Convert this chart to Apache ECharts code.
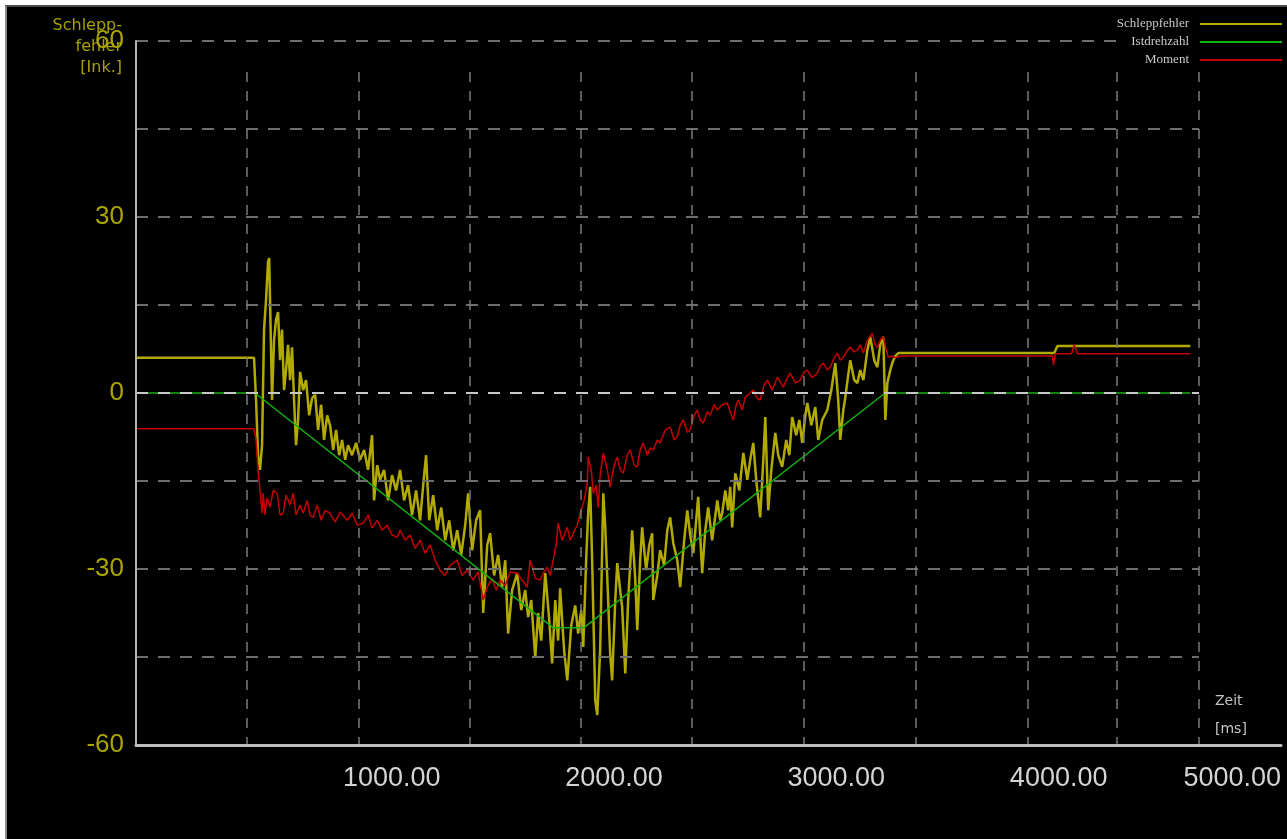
<!DOCTYPE html>
<html>
<head>
<meta charset="utf-8">
<script src="https://cdn.jsdelivr.net/npm/echarts@6/dist/echarts.min.js"></script>
<style>
  body { margin: 0; background: #fff; }
  #frame {
    position: absolute; left: 5px; top: 5px;
    width: 1280px; height: 832px;
    border-top: 2px solid #4a4a4a; border-left: 2px solid #8a8a8a;
    background: #000;
  }
  #chart { width: 1280px; height: 832px; }
</style>
</head>
<body>
<div id="frame"><div id="chart"></div></div>
<script>
// Zeit [ms] / Schleppfehler [Ink.]
const schleppTime = [-150, 381, 390, 399, 408, 417, 426, 435, 444, 449,
  453, 462, 471, 480, 489, 498, 507, 516, 525, 534,
  543, 552, 561, 570, 579, 588, 602, 615, 629, 642,
  656, 669, 683, 696, 710, 723, 737, 750, 764, 777,
  791, 804, 822, 840, 858, 876, 894, 912, 921, 935,
  948, 966, 984, 1002, 1020, 1038, 1056, 1074, 1092, 1110,
  1128, 1146, 1155, 1169, 1187, 1205, 1223, 1241, 1259, 1277,
  1295, 1313, 1331, 1344, 1362, 1380, 1398, 1412, 1430, 1443,
  1461, 1479, 1497, 1511, 1524, 1542, 1565, 1583, 1601, 1614,
  1628, 1646, 1659, 1673, 1691, 1709, 1722, 1736, 1749, 1758,
  1776, 1790, 1808, 1826, 1839, 1853, 1862, 1875, 1884, 1893,
  1902, 1916, 1925, 1938, 1952, 1961, 1974, 1983, 1992, 2006,
  2015, 2028, 2037, 2051, 2064, 2082, 2096, 2105, 2118, 2127,
  2145, 2159, 2172, 2177, 2195, 2208, 2226, 2240, 2253, 2267,
  2285, 2298, 2316, 2330, 2343, 2357, 2370, 2379, 2397, 2411,
  2424, 2442, 2465, 2478, 2487, 2501, 2514, 2523, 2532, 2546,
  2564, 2582, 2600, 2613, 2627, 2640, 2658, 2672, 2681, 2694,
  2708, 2726, 2739, 2757, 2775, 2789, 2802, 2820, 2834, 2847,
  2861, 2870, 2888, 2906, 2919, 2937, 2960, 2978, 2996, 3009,
  3018, 3032, 3041, 3054, 3063, 3081, 3095, 3108, 3122, 3140,
  3153, 3171, 3185, 3198, 3212, 3221, 3230, 3243, 3252, 3266,
  3279, 3981, 3995, 4593];
const schleppValue = [6.0, 6.0, -1.2, -10.6, -13.1, -8.9, 10.8, 15.9, 22.4, 23.0,
  15.9, -1.2, 9.0, 12.5, 13.8, 5.6, 10.8, 0.5, 3.9, 8.2,
  2.2, 7.8, -1.2, -8.9, -4.6, 3.6, 0.5, 2.2, -3.8, -0.9,
  -0.3, -6.3, -2.0, -8.0, -3.8, -5.5, -9.7, -6.3, -10.6, -8.0,
  -11.4, -8.9, -10.6, -8.5, -11.4, -9.7, -13.1, -7.2, -18.3, -12.3,
  -14.8, -13.1, -18.3, -14.0, -16.6, -13.1, -18.3, -15.7, -20.8, -16.6,
  -21.7, -14.0, -10.6, -21.7, -17.4, -23.4, -19.5, -25.1, -21.7, -26.8,
  -23.4, -27.6, -22.5, -17.1, -26.8, -21.7, -20.0, -37.5, -25.9, -23.9,
  -31.1, -27.6, -33.1, -28.5, -41.0, -33.6, -30.7, -37.0, -33.6, -38.2,
  -35.3, -45.1, -37.5, -42.2, -30.7, -38.7, -46.1, -35.3, -42.2, -33.3,
  -43.9, -49.0, -39.6, -36.2, -41.0, -37.0, -43.3, -28.5, -20.5, -16.0,
  -28.5, -52.4, -54.9, -43.9, -17.1, -22.9, -35.3, -44.4, -49.0, -35.3,
  -29.0, -33.6, -36.5, -47.8, -35.3, -23.4, -31.9, -40.4, -28.5, -22.9,
  -30.2, -25.9, -23.9, -35.3, -31.1, -26.8, -29.4, -23.4, -21.2, -25.6,
  -28.5, -33.1, -25.1, -20.0, -24.2, -27.3, -21.7, -17.7, -30.7, -23.4,
  -19.5, -25.1, -18.3, -21.7, -20.5, -16.6, -20.0, -16.0, -22.9, -13.7,
  -16.6, -10.2, -14.8, -11.4, -8.5, -14.8, -21.2, -11.4, -4.1, -20.0,
  -13.1, -6.8, -10.6, -12.6, -8.0, -10.6, -4.1, -7.2, -4.6, -8.5,
  -3.8, -1.7, -5.5, -2.4, -8.0, -4.6, -2.9, 0.5, 5.1, -1.2,
  -8.0, -2.9, -0.7, 3.1, 5.6, 2.2, 1.7, 3.9, 2.2, 7.3,
  9.6, 5.6, 4.4, 8.2, 9.6, -4.6, 1.7, 3.9, 5.1, 6.3,
  6.8, 6.8, 8.0, 8.0];

// Moment
const momentTime = [-150, 381, 390, 399, 408, 417, 422, 431, 440, 453,
  467, 485, 498, 512, 525, 543, 557, 570, 588, 602,
  620, 633, 647, 665, 683, 701, 723, 746, 768, 800,
  822, 845, 872, 894, 912, 935, 957, 980, 1002, 1025,
  1038, 1061, 1083, 1106, 1128, 1151, 1173, 1196, 1218, 1241,
  1263, 1295, 1317, 1340, 1367, 1389, 1412, 1430, 1452, 1470,
  1488, 1511, 1533, 1565, 1587, 1610, 1623, 1646, 1668, 1686,
  1700, 1713, 1727, 1740, 1749, 1767, 1790, 1803, 1817, 1835,
  1848, 1866, 1880, 1884, 1898, 1907, 1920, 1929, 1938, 1952,
  1970, 1983, 2001, 2015, 2028, 2042, 2060, 2073, 2091, 2105,
  2118, 2132, 2150, 2163, 2177, 2195, 2208, 2231, 2253, 2271,
  2285, 2298, 2312, 2330, 2343, 2361, 2375, 2388, 2402, 2420,
  2433, 2451, 2465, 2487, 2510, 2523, 2537, 2550, 2559, 2577,
  2591, 2613, 2627, 2645, 2658, 2676, 2690, 2712, 2735, 2748,
  2762, 2780, 2793, 2816, 2838, 2856, 2870, 2892, 2915, 2928,
  2942, 2960, 2973, 2991, 3005, 3018, 3032, 3050, 3063, 3081,
  3095, 3108, 3122, 3140, 3162, 3176, 3185, 3198, 3212, 3225,
  3234, 3248, 3266, 3288, 3972, 3977, 3986, 4058, 4071, 4085,
  4593];
const momentValue = [-6.1, -6.1, -8.0, -13.1, -16.6, -20.5, -17.1, -20.8, -17.9, -19.5,
  -16.6, -17.1, -20.8, -20.5, -17.4, -19.1, -17.1, -20.8, -19.1, -20.5,
  -18.3, -20.8, -21.2, -19.1, -21.7, -20.0, -20.5, -22.0, -20.3, -21.7,
  -20.5, -22.5, -22.2, -20.8, -23.0, -21.7, -23.4, -22.5, -24.2, -24.6,
  -23.4, -25.1, -24.2, -26.5, -25.1, -27.3, -25.9, -28.5, -30.2, -31.1,
  -29.4, -28.5, -31.1, -30.2, -31.9, -30.5, -35.3, -33.1, -31.6, -33.6,
  -31.9, -32.8, -30.5, -30.7, -31.9, -33.1, -28.5, -31.6, -31.9, -30.5,
  -29.7, -31.1, -28.5, -25.9, -22.2, -25.1, -22.9, -25.1, -23.9, -22.5,
  -20.5, -18.3, -15.4, -10.9, -13.1, -17.1, -15.7, -19.5, -14.0, -10.2,
  -13.1, -16.0, -12.3, -10.9, -13.1, -13.7, -10.6, -9.7, -12.3, -12.6,
  -9.7, -8.5, -10.6, -9.4, -9.7, -8.0, -8.5, -6.3, -5.8, -8.0,
  -7.5, -5.5, -4.6, -6.7, -6.3, -3.8, -2.9, -4.6, -5.1, -3.2,
  -3.8, -2.0, -2.9, -2.0, -1.7, -3.2, -4.6, -2.0, -1.2, -2.9,
  -0.7, 0.0, 0.5, -0.9, -1.2, 1.4, 2.2, 0.5, 2.7, 1.9,
  1.0, 2.6, 3.4, 1.7, 2.2, 3.6, 3.9, 2.6, 3.4, 4.6,
  5.1, 3.9, 4.4, 6.0, 6.8, 5.6, 6.1, 7.3, 7.8, 7.0,
  7.3, 8.2, 6.8, 9.0, 10.2, 8.2, 7.8, 9.0, 9.6, 7.3,
  6.1, 6.3, 6.0, 6.3, 6.3, 4.8, 6.7, 6.7, 8.2, 6.7,
  6.7];

// Istdrehzahl
const drehzahlTime = [-150, 385, 1726, 1865, 3220, 4593];
const drehzahlValue = [0, 0, -40, -40, 0, 0];

const xLabelTicks = [1000, 2000, 3000, 4000, 5000];
const xGridTicks = [350, 850, 1350, 1850, 2350, 2855, 3355, 3860, 4260, 4632];
const yLabelTicks = [-60, -30, 0, 30, 60];
const yGridTicks = [-45, -30, -15, 0, 15, 30, 45, 60];

const pairs = (t, v) => t.map((x, i) => [x, v[i]]);

const chart = echarts.init(document.getElementById('chart'));

const option = {
  backgroundColor: '#000',
  animation: false,
  legend: {
    data: ['Schleppfehler', 'Istdrehzahl', 'Moment'],
    orient: 'vertical',
    right: 5,
    top: 10,
    padding: 0,
    z: 8,
    backgroundColor: '#000',
    align: 'right',
    icon: 'rect',
    itemWidth: 82,
    itemHeight: 2,
    itemGap: 4,
    textStyle: {
      color: '#c8c8c8',
      fontFamily: 'Liberation Serif',
      fontSize: 13,
      lineHeight: 14,
      padding: [0, 6, 0, 0]
    }
  },
  grid: [
    { left: 129, top: 34, right: 88, bottom: 94, outerBoundsMode: 'none' },
    { left: 129, top: 65, right: 6, bottom: 94, outerBoundsMode: 'none' }
  ],
  xAxis: [
    { gridIndex: 0, type: 'value', min: -150, max: 4632, show: false },
    {
      gridIndex: 1, type: 'value', min: -150, max: 5000, z: 5,
      name: 'Zeit\n[ms]',
      nameLocation: 'end',
      nameGap: -66,
      nameMoveOverlap: false,
      nameTextStyle: {
        color: '#c4c4c4', fontFamily: 'DejaVu Sans', fontSize: 14,
        lineHeight: 28, align: 'left', verticalAlign: 'bottom', padding: [0, 0, 2, 0]
      },
      axisLine: { show: true, onZero: false, lineStyle: { color: '#bdbdbd', width: 3 } },
      axisTick: { show: false, customValues: xGridTicks },
      axisLabel: {
        customValues: xLabelTicks,
        formatter: v => v.toFixed(2),
        color: '#d4d4d4', fontFamily: 'Liberation Sans', fontSize: 27, margin: 20,
        alignMaxLabel: 'right'
      },
      splitLine: { show: true, lineStyle: { color: '#7a7a7a', width: 1.5, type: [10, 9] } }
    }
  ],
  yAxis: [
    {
      gridIndex: 0, type: 'value', min: -60, max: 60, z: 5,
      name: 'Schlepp-\nfehler\n[Ink.]',
      nameLocation: 'end',
      nameGap: -37,
      nameMoveOverlap: false,
      nameTextStyle: {
        color: '#a8a000', fontFamily: 'DejaVu Sans', fontSize: 16, lineHeight: 21,
        align: 'right', verticalAlign: 'bottom', padding: [0, 14, 0, 0]
      },
      axisLine: { show: true, onZero: false, lineStyle: { color: '#b4b4b4', width: 2 } },
      axisTick: { show: false, customValues: yGridTicks },
      axisLabel: {
        customValues: yLabelTicks,
        color: '#aca400', fontFamily: 'Liberation Sans', fontSize: 26, margin: 12
      },
      splitLine: {
        show: true,
        lineStyle: {
          color: ['#6e6e6e', '#6e6e6e', '#6e6e6e', '#c8c8c8', '#6e6e6e', '#6e6e6e', '#6e6e6e', '#6e6e6e'],
          width: 2, type: [12, 10]
        }
      }
    },
    { gridIndex: 1, type: 'value', min: -60, max: 60, show: false }
  ],
  series: [
    {
      name: 'Schleppfehler', type: 'line', xAxisIndex: 0, yAxisIndex: 0,
      data: pairs(schleppTime, schleppValue),
      symbol: 'none', color: '#b2aa00', lineStyle: { width: 2.5 }
    },
    {
      name: 'Moment', type: 'line', xAxisIndex: 0, yAxisIndex: 0,
      data: pairs(momentTime, momentValue),
      symbol: 'none', color: '#c40000', lineStyle: { width: 1.5 }
    },
    {
      name: 'Istdrehzahl', type: 'line', xAxisIndex: 0, yAxisIndex: 0,
      data: pairs(drehzahlTime, drehzahlValue),
      symbol: 'none', color: '#12b012', lineStyle: { width: 1.5 }
    }
  ]
};

chart.setOption(option);
</script>
</body>
</html>
